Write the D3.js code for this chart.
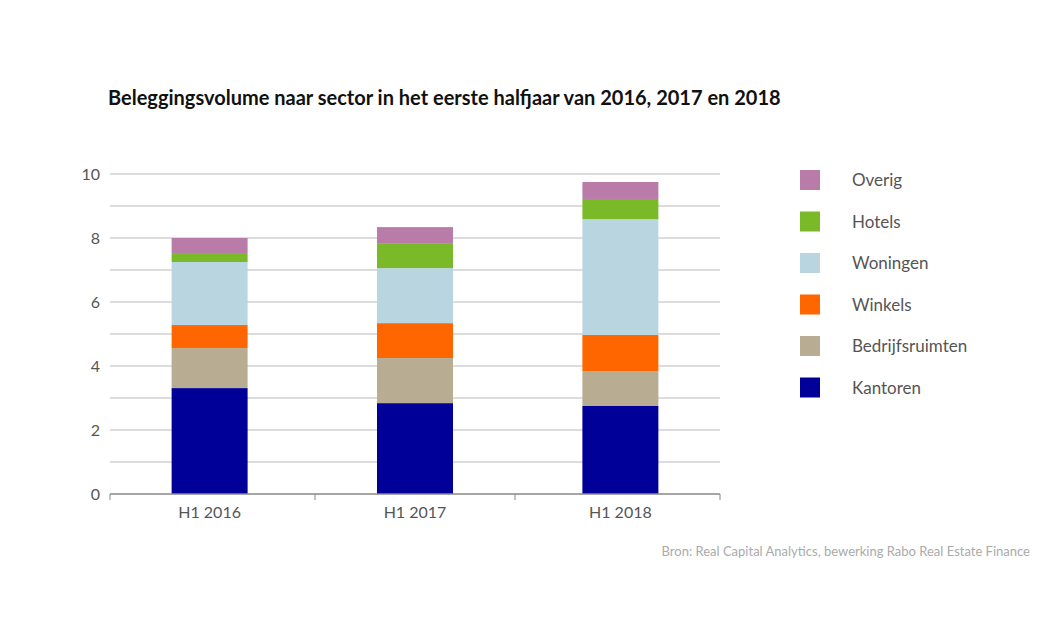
<!DOCTYPE html>
<html><head><meta charset="utf-8">
<script src="https://cdn.jsdelivr.net/npm/d3@7"></script>
<style>body{margin:0;background:#fff}text{font-family:Lato,"Open Sans",sans-serif}</style>
</head><body><svg></svg>
<script>
var years=["H1 2016","H1 2017","H1 2018"];
var sectors=["Kantoren","Bedrijfsruimten","Winkels","Woningen","Hotels","Overig"];
var colors=["#000099","#b8ad93","#ff6600","#b9d5e0","#7aba28","#b97ca9"];
var kantoren=[3.31,2.84,2.75];
var bedrijfsruimten=[1.25,1.41,1.09];
var winkels=[0.72,1.09,1.13];
var woningen=[1.97,1.72,3.62];
var hotels=[0.28,0.78,0.63];
var overig=[0.47,0.5,0.53];
var yTicks=[0,2,4,6,8,10];

var width=1047,height=640;
var svg=d3.select("svg").attr("width",width).attr("height",height);
var x=d3.scaleBand().domain(years).range([110,720]).paddingInner(0.63).paddingOuter(0.3);
var y=d3.scaleLinear().domain([0,10]).range([494,174]);

svg.append("text").attr("x",108).attr("y",105).text("Beleggingsvolume naar sector in het eerste halfjaar van 2016, 2017 en 2018")
	.style("font-size","20px").style("font-weight","bold").attr("fill","#111");

// grid
svg.selectAll(".grid").data(d3.range(1,11)).enter().append("line")
	.attr("x1",110).attr("x2",720).attr("y1",d=>y(d)).attr("y2",d=>y(d))
	.attr("stroke","#d0d0d0").attr("stroke-width",1.5);

var rows=years.map(function(yr,i){
	return {year:yr,Kantoren:kantoren[i],Bedrijfsruimten:bedrijfsruimten[i],Winkels:winkels[i],
		Woningen:woningen[i],Hotels:hotels[i],Overig:overig[i]};
});
var stack=d3.stack().keys(sectors)(rows);
svg.selectAll(".layer").data(stack).enter().append("g").attr("fill",(d,i)=>colors[i])
	.selectAll("rect").data(d=>d).enter().append("rect")
	.attr("x",d=>x(d.data.year)).attr("width",x.bandwidth())
	.attr("y",d=>y(d[1])).attr("height",d=>y(d[0])-y(d[1]));

// axes
svg.append("line").attr("x1",110).attr("x2",720).attr("y1",y(0)).attr("y2",y(0)).attr("stroke","#888").attr("stroke-width",1.5);
[110,315,515,720].forEach(function(px){
	svg.append("line").attr("x1",px).attr("x2",px).attr("y1",y(0)).attr("y2",y(0)+6).attr("stroke","#888");
});
svg.selectAll(".yl").data(yTicks).enter().append("text").attr("x",100).attr("y",d=>y(d)+6)
	.attr("text-anchor","end").text(d=>d).style("font-size","16px").attr("fill","#555");
svg.selectAll(".xl").data(years).enter().append("text").attr("x",d=>x(d)+x.bandwidth()/2).attr("y",518)
	.attr("text-anchor","middle").text(d=>d).style("font-size","16px").attr("fill","#555");

// legend
var leg=sectors.slice().reverse();
var lg=svg.selectAll(".lg").data(leg).enter().append("g").attr("transform",(d,i)=>"translate(800,"+(170+i*41.5)+")");
lg.append("rect").attr("width",20).attr("height",20).attr("fill",d=>colors[sectors.indexOf(d)]);
lg.append("text").attr("x",52).attr("y",16).text(d=>d).style("font-size","17px").attr("fill","#555");

svg.append("text").attr("x",1030).attr("y",556).attr("text-anchor","end")
	.text("Bron: Real Capital Analytics, bewerking Rabo Real Estate Finance").style("font-size","13px").attr("fill","#aaa");
</script></body></html>
